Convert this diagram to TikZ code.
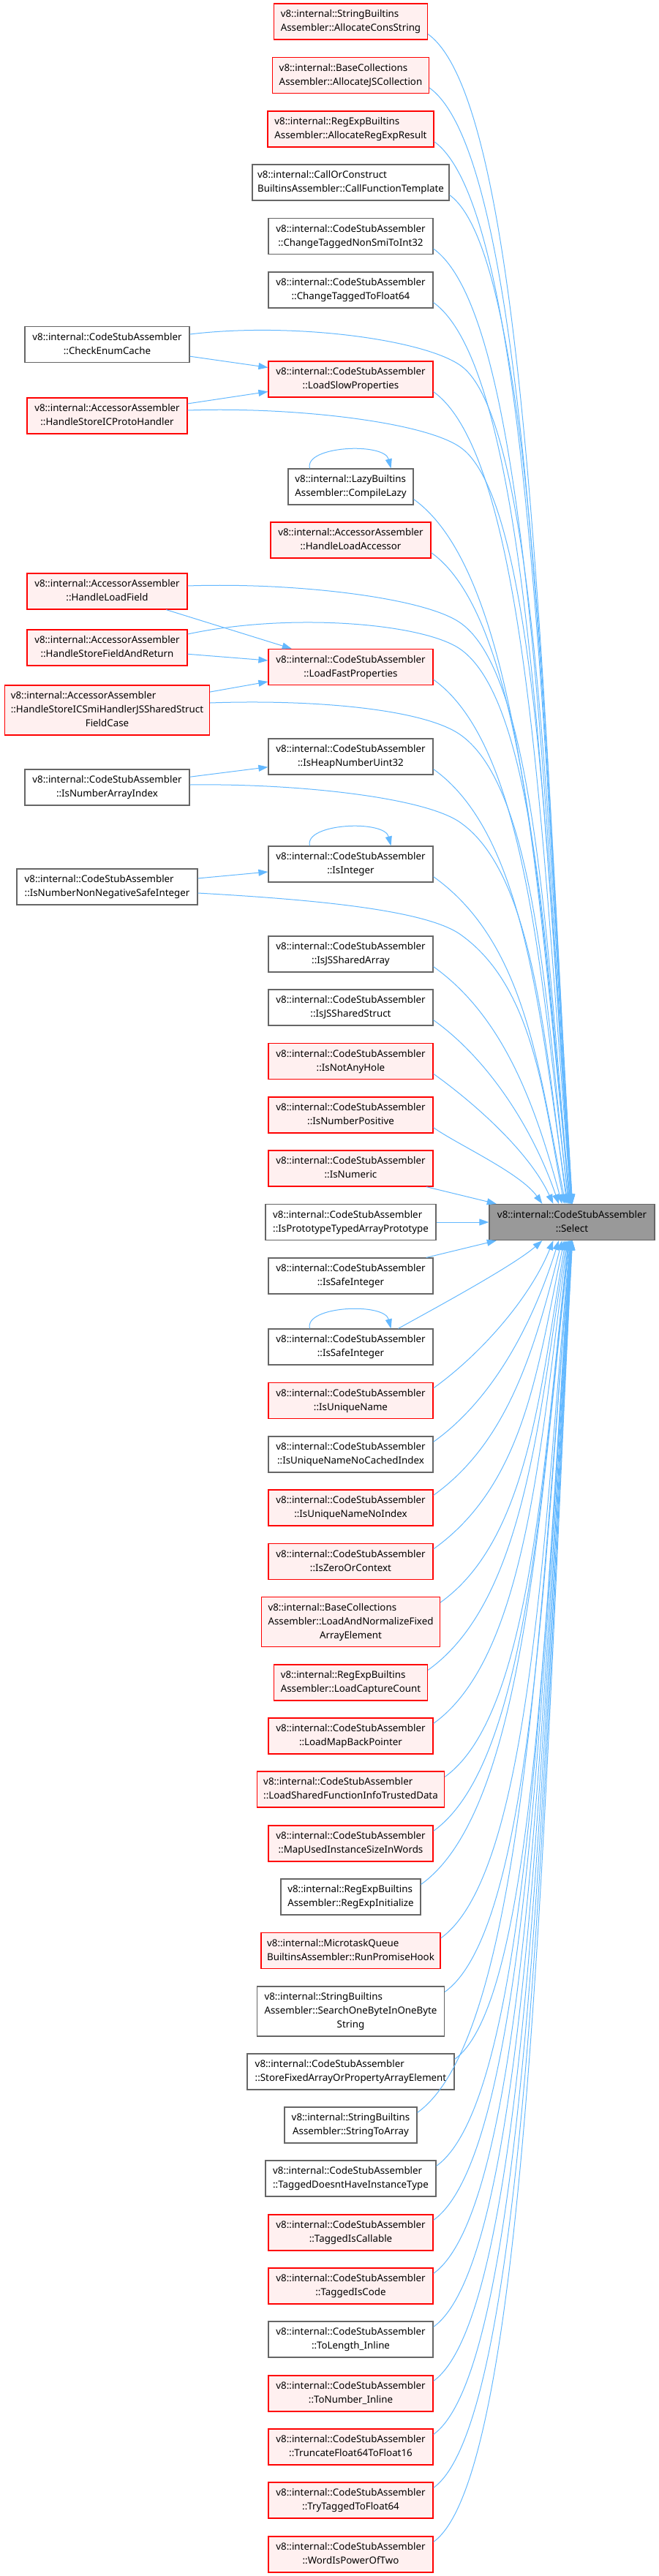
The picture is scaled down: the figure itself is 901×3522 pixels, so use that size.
\documentclass[tikz,border=0pt]{standalone}
\usepackage{fontspec}
\newfontfamily\nf{Noto Sans}
\usetikzlibrary{arrows.meta}
\definecolor{edgec}{HTML}{63B8FF}
\definecolor{redfill}{HTML}{FFF0F0}
\definecolor{grayb}{HTML}{666666}
\definecolor{selfill}{HTML}{999999}
\newcommand\twoL[2]{\begin{tabular}{@{}l@{}}#1\\\multicolumn{1}{@{}c@{}}{#2}\end{tabular}}
\newcommand\threeL[3]{\begin{tabular}{@{}l@{}}#1\\#2\\\multicolumn{1}{@{}c@{}}{#3}\end{tabular}}
\begin{document}
\begin{tikzpicture}[x=1pt,y=-1pt,
  nb/.style={rectangle, inner sep=0pt, minimum height=49pt, line width=1.2pt, font=\nf\fontsize{13.33pt}{19pt}\selectfont},
  redn/.style={nb, draw=red, fill=redfill, minimum width=#1},
  grayn/.style={nb, draw=grayb, fill=white, minimum width=#1},
  seln/.style={nb, draw=grayb, fill=selfill, minimum width=#1},
  tall/.style={minimum height=68pt},
  edge/.style={draw=edgec, line width=1pt, -{Triangle[length=13pt,width=9pt]}}]
\useasboundingbox (0,0) rectangle (901,3522);
% nodes
\node[redn=210pt] (acs) at (479.5,29.5) {\twoL{v8::internal::StringBuiltins}{Assembler::AllocateConsString}};
\node[redn=214pt] (ajc) at (479.5,103) {\twoL{v8::internal::BaseCollections}{Assembler::AllocateJSCollection}};
\node[redn=227pt] (are) at (479.5,176.5) {\twoL{v8::internal::RegExpBuiltins}{Assembler::AllocateRegExpResult}};
\node[grayn=269pt] (cft) at (479.5,249.5) {\twoL{v8::internal::CallOrConstruct}{BuiltinsAssembler::CallFunctionTemplate}};
\node[grayn=225pt] (ctn) at (479.5,323) {\twoL{v8::internal::CodeStubAssembler}{::ChangeTaggedNonSmiToInt32}};
\node[grayn=225pt] (ctf) at (479.5,396.5) {\twoL{v8::internal::CodeStubAssembler}{::ChangeTaggedToFloat64}};
\node[grayn=225pt] (cec) at (146.5,471) {\twoL{v8::internal::CodeStubAssembler}{::CheckEnumCache}};
\node[redn=225pt] (lsp) at (479.5,518.5) {\twoL{v8::internal::CodeStubAssembler}{::LoadSlowProperties}};
\node[redn=219pt] (hsp) at (146.5,568.5) {\twoL{v8::internal::AccessorAssembler}{::HandleStoreICProtoHandler}};
\node[grayn=171pt] (cl) at (479.5,665.5) {\twoL{v8::internal::LazyBuiltins}{Assembler::CompileLazy}};
\node[redn=219pt] (hla) at (479.5,738.5) {\twoL{v8::internal::AccessorAssembler}{::HandleLoadAccessor}};
\node[redn=219pt] (hlf) at (146.5,808.5) {\twoL{v8::internal::AccessorAssembler}{::HandleLoadField}};
\node[redn=219pt] (hsf) at (146.5,885.5) {\twoL{v8::internal::AccessorAssembler}{::HandleStoreFieldAndReturn}};
\node[redn=225pt] (lfp) at (479.5,912) {\twoL{v8::internal::CodeStubAssembler}{::LoadFastProperties}};
\node[redn=280pt,tall] (hss) at (146.5,971) {\threeL{v8::internal::AccessorAssembler}{::HandleStoreICSmiHandlerJSSharedStruct}{FieldCase}};
\node[grayn=225pt] (ihn) at (479.5,1034.5) {\twoL{v8::internal::CodeStubAssembler}{::IsHeapNumberUint32}};
\node[grayn=225pt] (ina) at (146.5,1076.5) {\twoL{v8::internal::CodeStubAssembler}{::IsNumberArrayIndex}};
\node[grayn=225pt] (iint) at (479.5,1181.5) {\twoL{v8::internal::CodeStubAssembler}{::IsInteger}};
\node[grayn=247pt] (inn) at (146.5,1212.5) {\twoL{v8::internal::CodeStubAssembler}{::IsNumberNonNegativeSafeInteger}};
\node[grayn=225pt] (ija) at (479.5,1304.5) {\twoL{v8::internal::CodeStubAssembler}{::IsJSSharedArray}};
\node[grayn=225pt] (ijs) at (479.5,1377.5) {\twoL{v8::internal::CodeStubAssembler}{::IsJSSharedStruct}};
\node[redn=225pt] (inh) at (479.5,1451) {\twoL{v8::internal::CodeStubAssembler}{::IsNotAnyHole}};
\node[redn=225pt] (inp) at (479.5,1524.5) {\twoL{v8::internal::CodeStubAssembler}{::IsNumberPositive}};
\node[redn=225pt] (inu) at (479.5,1597.5) {\twoL{v8::internal::CodeStubAssembler}{::IsNumeric}};
\node[grayn=233pt] (ipt) at (479.5,1671) {\twoL{v8::internal::CodeStubAssembler}{::IsPrototypeTypedArrayPrototype}};
\node[seln=226pt] (sel) at (782,1671) {\twoL{v8::internal::CodeStubAssembler}{::Select}};
\node[grayn=225pt] (isa) at (479.5,1744.5) {\twoL{v8::internal::CodeStubAssembler}{::IsSafeInteger}};
\node[grayn=225pt] (isb) at (479.5,1841.5) {\twoL{v8::internal::CodeStubAssembler}{::IsSafeInteger}};
\node[redn=225pt] (iun) at (479.5,1915) {\twoL{v8::internal::CodeStubAssembler}{::IsUniqueName}};
\node[grayn=225pt] (iunc) at (479.5,1988.5) {\twoL{v8::internal::CodeStubAssembler}{::IsUniqueNameNoCachedIndex}};
\node[redn=225pt] (iuni) at (479.5,2061.5) {\twoL{v8::internal::CodeStubAssembler}{::IsUniqueNameNoIndex}};
\node[redn=225pt] (izc) at (479.5,2135) {\twoL{v8::internal::CodeStubAssembler}{::IsZeroOrContext}};
\node[redn=244pt,tall] (lan) at (479.5,2217.5) {\threeL{v8::internal::BaseCollections}{Assembler::LoadAndNormalizeFixed}{ArrayElement}};
\node[redn=210pt] (lcc) at (479.5,2300.5) {\twoL{v8::internal::RegExpBuiltins}{Assembler::LoadCaptureCount}};
\node[redn=225pt] (lmb) at (479.5,2373.5) {\twoL{v8::internal::CodeStubAssembler}{::LoadMapBackPointer}};
\node[redn=256pt] (lsf) at (479.5,2446.5) {\twoL{v8::internal::CodeStubAssembler}{::LoadSharedFunctionInfoTrustedData}};
\node[redn=225pt] (mui) at (479.5,2520.5) {\twoL{v8::internal::CodeStubAssembler}{::MapUsedInstanceSizeInWords}};
\node[grayn=191pt] (rei) at (479.5,2593.5) {\twoL{v8::internal::RegExpBuiltins}{Assembler::RegExpInitialize}};
\node[redn=245pt] (rph) at (479.5,2667) {\twoL{v8::internal::MicrotaskQueue}{BuiltinsAssembler::RunPromiseHook}};
\node[grayn=256pt,tall] (sob) at (479.5,2750) {\threeL{v8::internal::StringBuiltins}{Assembler::SearchOneByteInOneByte}{String}};
\node[grayn=283pt] (sfa) at (479.5,2832.5) {\twoL{v8::internal::CodeStubAssembler}{::StoreFixedArrayOrPropertyArrayElement}};
\node[grayn=181pt] (sta) at (479.5,2905.5) {\twoL{v8::internal::StringBuiltins}{Assembler::StringToArray}};
\node[grayn=233pt] (tdh) at (479.5,2978.5) {\twoL{v8::internal::CodeStubAssembler}{::TaggedDoesntHaveInstanceType}};
\node[redn=225pt] (tic) at (479.5,3052.5) {\twoL{v8::internal::CodeStubAssembler}{::TaggedIsCallable}};
\node[redn=225pt] (tco) at (479.5,3125.5) {\twoL{v8::internal::CodeStubAssembler}{::TaggedIsCode}};
\node[grayn=225pt] (tli) at (479.5,3198.5) {\twoL{v8::internal::CodeStubAssembler}{::ToLength\_Inline}};
\node[redn=225pt] (tni) at (479.5,3272.5) {\twoL{v8::internal::CodeStubAssembler}{::ToNumber\_Inline}};
\node[redn=225pt] (tff) at (479.5,3345.5) {\twoL{v8::internal::CodeStubAssembler}{::TruncateFloat64ToFloat16}};
\node[redn=225pt] (ttf) at (479.5,3418.5) {\twoL{v8::internal::CodeStubAssembler}{::TryTaggedToFloat64}};
\node[redn=225pt] (wip) at (479.5,3492.5) {\twoL{v8::internal::CodeStubAssembler}{::WordIsPowerOfTwo}};
% straight short edges
\draw[edge] (cec) -- (lsp);
\draw[edge] (hsp) -- (lsp);
\draw[edge] (hlf) -- (lfp);
\draw[edge] (hsf) -- (lfp);
\draw[edge] (hss) -- (lfp);
\draw[edge] (ina) -- (ihn);
\draw[edge] (inn) -- (iint);
\draw[edge] (inu) -- (sel);
\draw[edge] (ipt) -- (sel);
\draw[edge] (isa) -- (sel);
% self loops
\foreach \nm in {cl,iint,isb}{
  \draw[edge] ([xshift=-56pt]\nm.north) .. controls +(-8pt,31pt) and +(-9pt,36pt) .. ([xshift=55pt]\nm.north);
}
% edges from above into Select
\foreach \nm/\sx/\sy/\ex in {inp/592/1541/742, inh/592/1467/757, ijs/592/1394/764.5, ija/592/1321/769, iint/592/1198/774, ihn/592/1051/777, lfp/592/929/778.8, hla/589/755/780.6, cl/565/682/781, lsp/592/535/781.7, ctf/592/413/782.3, ctn/592/339/782.5, cft/614/266/782.7, are/593/193/782.9, ajc/586.5/119/783.1, acs/584.5/46/783.25}{
  \pgfmathsetmacro\dx{\ex-\sx}
  \pgfmathsetmacro\dy{1647-\sy}
  \pgfmathsetmacro\ca{min(0.7*\dx,0.3*\dy)}
  \pgfmathsetmacro\cb{0.714*\ca}
  \pgfmathsetmacro\cc{0.2*\dx}
  \pgfmathsetmacro\cd{0.4*\dy}
  \pgfmathsetmacro\eo{\ex-669}
  \draw[edge] ([yshift=8pt]\nm.south east) .. controls +(\ca pt,-\cb pt) and +(-\cc pt,\cd pt) .. ([xshift=\eo pt]sel.north west);
}
% edges from below into Select
\foreach \nm/\sx/\sy/\ex in {iun/592/1899/757, iunc/592/1972/764.5, iuni/592/2045/769, izc/592/2119/772, lan/601.5/2192/774, lcc/584.5/2284/775.75, lmb/592/2357/777, lsf/607.5/2430/778, mui/592/2504/778.8, rei/575/2577/779.5, rph/602/2651/780.1, sob/607.5/2724/780.6, sfa/621/2816/781, sta/570/2889/781.4, tdh/596/2962/781.7, tic/592/3036/782, tco/592/3109/782.3, tli/592/3182/782.5, tni/592/3256/782.7, tff/592/3329/782.9, ttf/592/3402/783.1, wip/592/3476/783.25}{
  \pgfmathsetmacro\dx{\ex-\sx}
  \pgfmathsetmacro\dy{\sy-1695}
  \pgfmathsetmacro\ca{min(0.7*\dx,0.3*\dy)}
  \pgfmathsetmacro\cb{0.714*\ca}
  \pgfmathsetmacro\cc{0.2*\dx}
  \pgfmathsetmacro\cd{0.4*\dy}
  \pgfmathsetmacro\eo{\ex-669}
  \draw[edge] ([yshift=-8pt]\nm.north east) .. controls +(\ca pt,\cb pt) and +(-\cc pt,-\cd pt) .. ([xshift=\eo pt]sel.south west);
}
\draw[edge] ([xshift=65pt]isb.north) .. controls +(45pt,25pt) and +(-40pt,-35pt) .. ([xshift=73pt]sel.south west);
% long edges from left column into Select
\draw[edge] ([yshift=14pt]cec.east) .. controls +(140pt,17pt) and +(-50pt,36pt) .. (630,500) .. controls +(106.4pt,-76pt) and +(-30.4pt,458.8pt) .. ([xshift=113pt]sel.north west);
\draw[edge] ([yshift=7.5pt]hsp.east) .. controls +(140pt,5pt) and +(-50pt,36pt) .. (630,612) .. controls +(106pt,-75.7pt) and +(-30.3pt,414pt) .. ([xshift=112.4pt]sel.north west);
\draw[edge] ([yshift=7.5pt]hlf.east) .. controls +(140pt,5pt) and +(-50pt,36pt) .. (630,852) .. controls +(105.1pt,-75pt) and +(-30pt,318pt) .. ([xshift=111.1pt]sel.north west);
\draw[edge] ([yshift=18.5pt]hsf.east) .. controls +(140pt,30pt) and +(-50pt,36pt) .. (630,888) .. controls +(104.7pt,-74.7pt) and +(-29.9pt,303.6pt) .. ([xshift=110.5pt]sel.north west);
\draw[edge] ([yshift=10pt]hss.east) .. controls +(140pt,5pt) and +(-50pt,36pt) .. (630,1005) .. controls +(103.6pt,-74pt) and +(-29.6pt,256.8pt) .. ([xshift=109pt]sel.north west);
\draw[edge] ([yshift=3.5pt]ina.east) .. controls +(140pt,2pt) and +(-50pt,36pt) .. (630,1125) .. controls +(102pt,-72.8pt) and +(-29.2pt,208.8pt) .. ([xshift=106.75pt]sel.north west);
\draw[edge] ([yshift=-8.5pt]inn.east) .. controls +(140pt,-8pt) and +(-50pt,36pt) .. (630,1278) .. controls +(99.4pt,-71pt) and +(-28.4pt,147.6pt) .. ([xshift=103pt]sel.north west);
\end{tikzpicture}
\end{document}
